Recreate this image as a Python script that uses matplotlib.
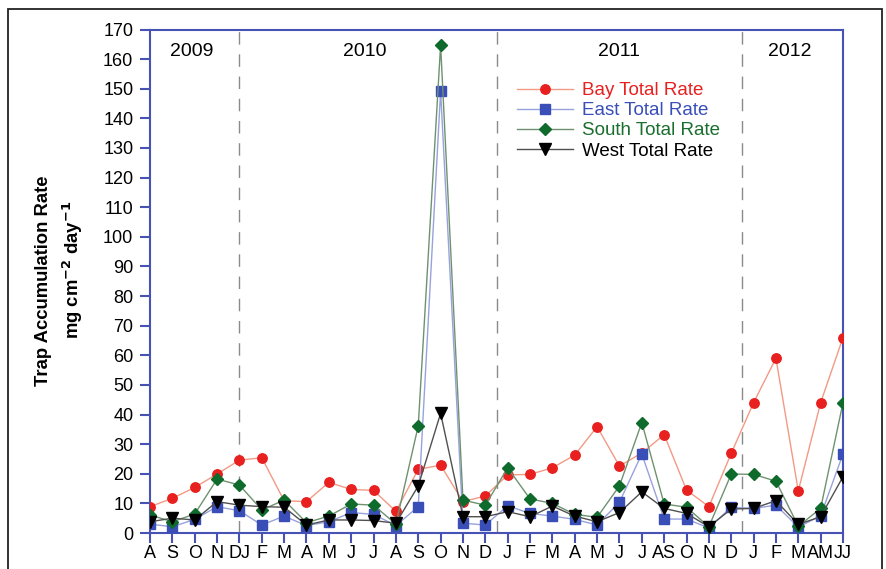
import matplotlib
matplotlib.use("Agg")
import matplotlib.pyplot as plt
from matplotlib.patches import Rectangle

plt.rcParams['font.family'] = ['Liberation Sans', 'DejaVu Sans']

month_labels = ["A", "S", "O", "N", "DJ", "F", "M", "A", "M", "J", "J", "A", "S", "O", "N", "D",
                "J", "F", "M", "A", "M", "J", "J", "AS", "O", "N", "D", "J", "F", "M", "AM", "JJ"]
bay = [8.9, 11.7, 15.4, 19.9, 24.6, 25.4, 10.9, 10.6, 17.1, 14.7, 14.4, 7.3, 21.5, 22.9, 10.6, 12.5,
       19.6, 19.8, 22.0, 26.3, 35.9, 22.6, 27.0, 33.2, 14.5, 8.9, 26.9, 44.0, 59.0, 14.2, 44.0, 66.0]
east = [3.0, 2.1, 4.6, 8.9, 7.5, 2.7, 5.7, 2.5, 3.8, 6.9, 6.3, 2.5, 8.9, 149.2, 3.3, 2.7,
        9.2, 6.6, 5.7, 4.6, 2.7, 10.4, 26.7, 4.7, 4.7, 1.7, 8.7, 8.3, 9.4, 2.0, 5.8, 26.7]
south = [6.1, 3.8, 6.4, 18.2, 16.2, 7.8, 11.1, 3.5, 5.7, 9.8, 9.4, 3.0, 36.2, 164.7, 11.1, 9.4,
         22.0, 11.5, 10.0, 6.3, 5.3, 15.9, 37.3, 9.8, 8.7, 2.1, 19.9, 19.8, 17.5, 2.3, 8.3, 44.0]
west = [3.8, 5.0, 4.4, 10.6, 9.4, 8.9, 8.7, 2.7, 4.4, 4.4, 4.2, 3.3, 15.9, 40.4, 5.5, 5.5,
        7.2, 5.5, 9.1, 5.7, 3.8, 6.9, 13.9, 8.3, 6.6, 2.1, 8.1, 8.3, 10.9, 2.9, 5.5, 19.0]
years = ["2009", "2010", "2011", "2012"]
year_pos = [1.88, 9.6, 21.0, 28.6]
year_bounds = [4, 15.5, 26.5]

x = list(range(len(month_labels)))

fig = plt.figure(figsize=(8.87, 5.69), dpi=100)
ax = fig.add_axes([150/887, 1-533/569, (843-150)/887, (533-29.5)/569])

spine_col = '#4652b4'
for b in year_bounds:
    ax.axvline(b, color='#8a8a8a', lw=1.0, linestyle=(0, (9, 7)), zorder=1)

ax.plot(x, bay, color='#f29a85', lw=1.0, marker='o', ms=6.8, mfc='#e8201f', mec='#e8201f',
        label='Bay Total Rate', zorder=3)
ax.plot(x, east, color='#98a2dc', lw=1.0, marker='s', ms=7.3, mfc='#3a4eb8', mec='#3a4eb8',
        label='East Total Rate', zorder=4)
ax.plot(x, south, color='#6e9270', lw=1.0, marker='D', ms=6.0, mfc='#0e6b2b', mec='#0e6b2b',
        label='South Total Rate', zorder=5)
ax.plot(x, west, color='#505050', lw=1.0, marker='v', ms=8.0, mfc='#000000', mec='#000000',
        label='West Total Rate', zorder=6)

ax.set_xlim(0, 31)
ax.set_ylim(0, 170)
ax.set_yticks(range(0, 171, 10))
ax.set_xticks(x)
ax.set_xticklabels(month_labels)
for s in ax.spines.values():
    s.set_color(spine_col)
    s.set_linewidth(1.5)
ax.tick_params(axis='both', direction='out', length=7, width=1.5, color=spine_col,
               labelsize=13, labelcolor='black')
ax.tick_params(axis='x', pad=2)
ax.tick_params(axis='y', pad=5)

for yl, yp in zip(years, year_pos):
    ax.text(yp, 162.7, yl, ha='center', va='center', fontsize=14)

leg = ax.legend(loc='upper left', bbox_to_anchor=((517-150)/693, 1-(82-29.5)/503.5),
                frameon=False, fontsize=13.5, handlelength=3.0, handletextpad=0.45,
                labelspacing=0.16, borderpad=0, borderaxespad=0)
for txt, col in zip(leg.get_texts(), ['#e8201f', '#3a4eb8', '#1a6e2e', '#000000']):
    txt.set_color(col)

fig.text(44/887, 1-281/569, 'Trap Accumulation Rate', rotation=90, ha='center', va='center',
         fontsize=13.3, fontweight='bold')
fig.text(73/887, 1-270/569, 'mg cm$^{\\mathbf{-2}}$ day$^{\\mathbf{-1}}$', rotation=90,
         ha='center', va='center', fontsize=13.3, fontweight='bold')

fig.add_artist(Rectangle((8/887, -0.05), (882-8)/887, 1.05-9/569, transform=fig.transFigure,
                         fill=False, edgecolor='#222222', lw=1.3))

fig.savefig('out.png', dpi=100)
